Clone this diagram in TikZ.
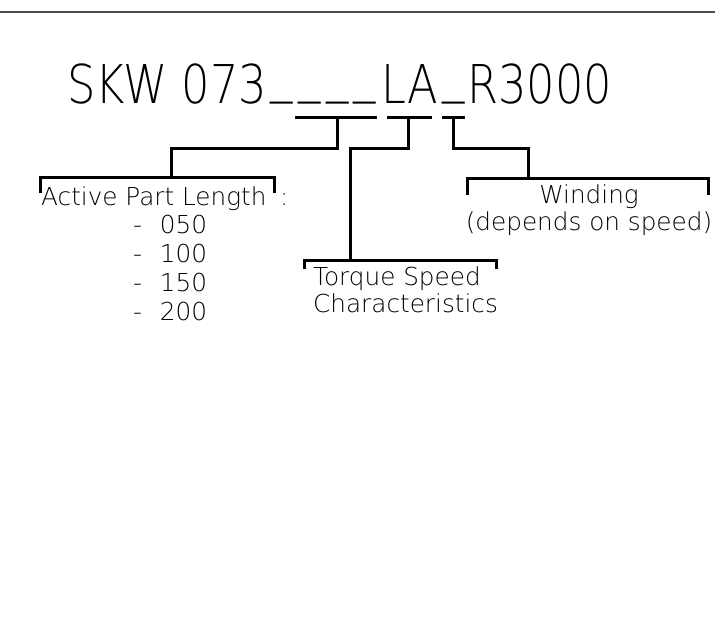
\documentclass[tikz,border=0pt]{standalone}
\usepackage{fontspec}
\setmainfont{DejaVuSans-ExtraLight}[Extension=.ttf]

\newcommand*{\barY}{117}
\newcommand*{\joinY}{148}
\newcommand*{\uscore}{\raisebox{0.22em}{\_}}

\begin{document}
\begin{tikzpicture}
[
	x=1pt,
	y=-1pt,
	link/.style={line width=3pt},
	label/.style={inner sep=0pt,anchor=base west,font=\fontsize{24.7}{28}\selectfont},
	centerlabel/.style={label,anchor=base}
]

	\useasboundingbox (0,0) rectangle (715,640);

	% frame line
	\draw[gray!60!black,line width=1.5pt] (0,12) -- (715,12);

	% type code
	\node[inner sep=0pt,anchor=base west,font=\fontsize{53.5}{60}\selectfont] (code) at (67,103)
	  {\scalebox{0.836}[1]{SKW 073\kern0.08em\uscore\kern0.12em\uscore\kern0.12em\uscore\kern0.12em\uscore\kern0.12em LA\kern0.1em\uscore\kern0.05em R3000}};

	% bars under the code
	\coordinate (lenL) at (295,\barY);
	\coordinate (lenR) at (377,\barY);
	\coordinate (tsL)  at (387,\barY);
	\coordinate (tsR)  at (432,\barY);
	\coordinate (wdL)  at (442,\barY);
	\coordinate (wdR)  at (465,\barY);
	\draw[link] (lenL) -- (lenR);
	\draw[link] (tsL) -- (tsR);
	\draw[link] (wdL) -- (wdR);

	% stems
	\coordinate (lenstem) at (337,\barY);
	\coordinate (tsstem)  at (408,\barY);
	\coordinate (wdstem)  at (453,\barY);

	% brackets over the labels
	\coordinate (lenbrk)  at (171,177);
	\coordinate (lenbrkL) at (40,193);
	\coordinate (lenbrkR) at (274,193);
	\coordinate (tsbrk)   at (350,260);
	\coordinate (tsbrkL)  at (304,269);
	\coordinate (tsbrkR)  at (496,269);
	\coordinate (wdbrk)   at (528,178);
	\coordinate (wdbrkL)  at (467,195);
	\coordinate (wdbrkR)  at (708,195);

	\draw[link] (lenstem) -- ++(0,\joinY-\barY) -| (lenbrk);
	\draw[link] (tsstem) -- ++(0,\joinY-\barY) -| (tsbrk);
	\draw[link] (wdstem) -- ++(0,\joinY-\barY) -| (wdbrk);

	\draw[link] (lenbrkL) |- (lenbrk) -| (lenbrkR);
	\draw[link] (tsbrkL) |- (tsbrk) -| (tsbrkR);
	\draw[link] (wdbrkL) |- (wdbrk) -| (wdbrkR);

	% labels
	\node[label] (len) at (41,205) {Active Part Length\kern6pt{} :};
	\foreach \v [count=\i] in {050,100,150,200} {
		\node[label] (len\i) at (133,204+29*\i) {-\kern10pt{} \v};
	}
	\node[label] (ts1) at (313,285) {Torque Speed};
	\node[label] (ts2) at (313,312) {Characteristics};
	\node[centerlabel] (wd1) at (589,203) {Winding};
	\node[centerlabel] (wd2) at (589,230) {(depends on speed)};

\end{tikzpicture}
\end{document}
